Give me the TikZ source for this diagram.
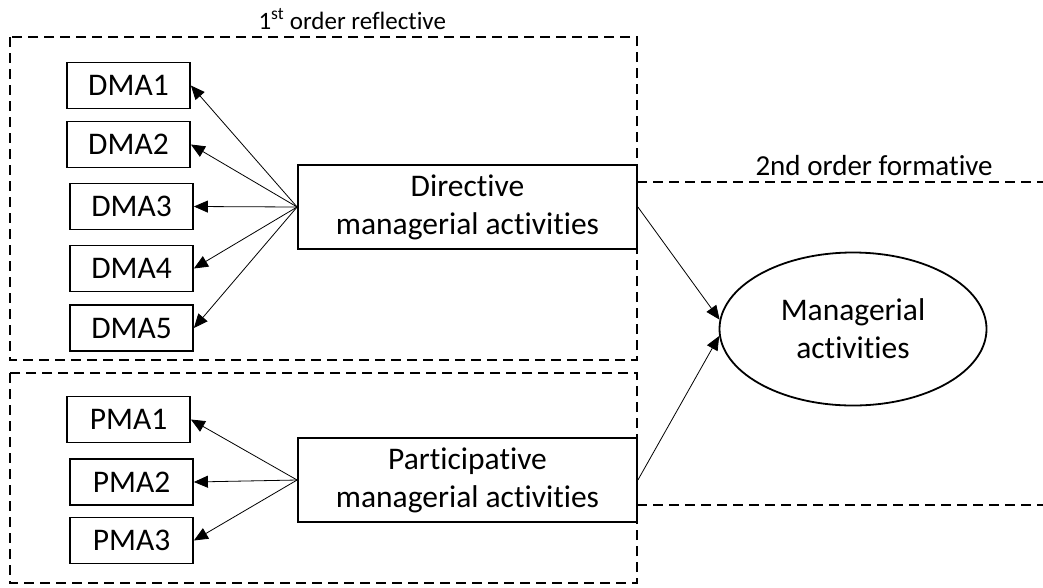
\documentclass[tikz,border=0pt]{standalone}
\usepackage{fontspec}
\setmainfont[Ligatures=NoCommon]{Carlito}
\usetikzlibrary{arrows.meta,shapes.geometric}

\begin{document}
\begin{tikzpicture}[x=1pt,y=-1pt,
  indicator/.style={draw,line width=1.8pt,minimum width=123pt,minimum height=46pt,inner sep=0pt,font=\fontsize{31.5}{38}\selectfont},
  construct/.style={indicator,minimum width=339pt,minimum height=84pt,align=center},
  orderbox/.style={line width=1.8pt,dash pattern=on 10pt off 6pt},
  loading/.style={-{Triangle[length=14pt,width=12pt]},line width=0.8pt}]
\useasboundingbox (0,0) rectangle (1043,587);

% dashed frames
\draw [orderbox] (10,37) rectangle (637,360);
\draw [orderbox] (10,373) rectangle (637,583);
\draw [orderbox] (637,182) -- (1043,182); \draw [orderbox] (637,505) -- (1043,505);
\node [anchor=base west,font=\fontsize{25}{30}\selectfont] (lab1) at (255,29) {1\textsuperscript{st} order reflective};
\node [anchor=base west,font=\fontsize{29}{35}\selectfont] (lab2) at (752,175) {2nd order formative};

% indicators
\node [indicator] (dma1) at (128.5,85.5) {DMA1}; \node [indicator] (dma2) at (128.5,144.5) {DMA2};
\node [indicator] (dma3) at (131.5,206.5) {DMA3}; \node [indicator] (dma4) at (131.5,268.5) {DMA4};
\node [indicator] (dma5) at (131.5,328) {DMA5};
\node [indicator] (pma1) at (128.5,419.5) {PMA1}; \node [indicator] (pma2) at (131.5,482) {PMA2};
\node [indicator] (pma3) at (131.5,540.5) {PMA3};

% constructs
\node [construct] (dir) at (467.5,207) {Directive\\managerial activities};
\node [construct] (par) at (467.5,480) {Participative\\managerial activities};
\node [ellipse,draw,line width=1.8pt,minimum width=267pt,minimum height=153pt,inner sep=0pt,align=center,font=\fontsize{31.5}{38}\selectfont] (mgr) at (853,329) {Managerial\\activities};

\draw [loading] (dir.west) -- (dma1.east); \draw [loading] (dir.west) -- (dma2.east);
\draw [loading] (dir.west) -- (dma3.east); \draw [loading] (dir.west) -- (dma4.east);
\draw [loading] (dir.west) -- (dma5.east);
\draw [loading] (par.west) -- (pma1.east); \draw [loading] (par.west) -- (pma2.east);
\draw [loading] (par.west) -- (pma3.east);

\draw [loading] (dir.east) -- (mgr.176); \draw [loading] (par.east) -- (mgr.183);

\end{tikzpicture}
\end{document}
